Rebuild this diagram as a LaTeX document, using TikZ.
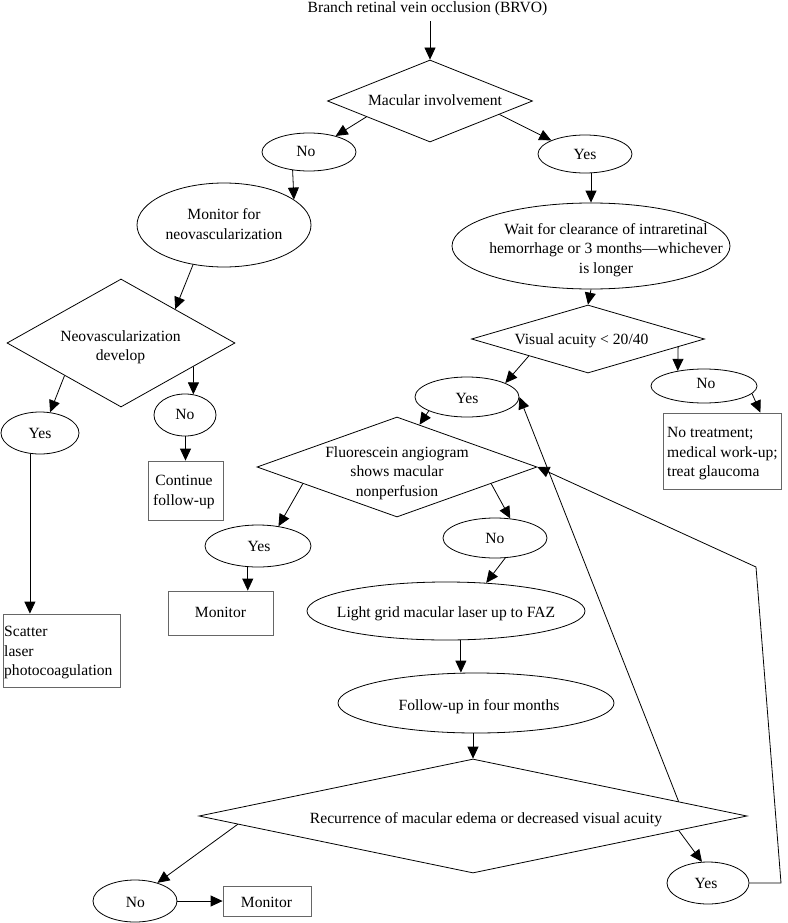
\documentclass[tikz,border=0pt]{standalone}
\usepackage{fontspec}
\setmainfont{Liberation Serif}
\usetikzlibrary{shapes.geometric,arrows.meta}
\begin{document}
\begin{tikzpicture}[x=1pt,y=-1pt,
  shp/.style={draw=black, line width=0.8pt, inner sep=0pt},
  ell/.style={shp, ellipse},
  dia/.style={shp, diamond},
  box/.style={draw=black!60, line width=0.8pt, inner sep=0pt, rectangle},
  txt/.style={inner sep=0pt, font=\fontsize{15.6}{19.5}\selectfont, align=center},
  one/.style={txt, anchor=base},
  arr/.style={-{Triangle[length=12pt,width=11pt]}, line width=0.8pt}
]
\useasboundingbox (0,0) rectangle (787,923);

% title
\node[one] (title) at (427.5,12.5) {Branch retinal vein occlusion (BRVO)};

% shapes
\node[dia, minimum width=205pt, minimum height=82pt] (d1) at (430,101) {};
\node[one] (d1t) at (435,106) {Macular involvement};

\node[ell, minimum width=94pt, minimum height=38pt] (n1) at (309,152) {};
\node[one] (n1t) at (306,157) {No};
\node[ell, minimum width=94pt, minimum height=38pt] (y1) at (585,154) {};
\node[one] (y1t) at (585,159) {Yes};

\node[ell, minimum width=174pt, minimum height=84pt] (m1) at (224,225) {};
\node[txt] (m1t) at (224,224) {Monitor for\\neovascularization};

\node[ell, minimum width=278pt, minimum height=86pt] (w) at (591,246) {};
\node[txt] (wt) at (606,250) {Wait for clearance of intraretinal\\hemorrhage or 3 months—whichever\\is longer};

\node[dia, minimum width=228pt, minimum height=128pt] (d2) at (121,343) {};
\node[txt] (d2t) at (120.5,347) {Neovascularization\\develop};

\node[ell, minimum width=78pt, minimum height=42pt] (yl) at (40,433) {};
\node[one] (ylt) at (40,438.5) {Yes};
\node[ell, minimum width=62pt, minimum height=42pt] (nl) at (185,415) {};
\node[one] (nlt) at (185,419.5) {No};

\node[box, minimum width=75pt, minimum height=59pt] (cf) at (185.5,490.5) {};
\node[txt] (cft) at (184,492) {Continue\\follow-up};

\node[box, minimum width=117pt, minimum height=73pt] (sc) at (61.5,650.5) {};
\node[txt, align=left, anchor=west] (sct) at (4,653) {Scatter\\laser\\photocoagulation};

\node[dia, minimum width=233pt, minimum height=68pt] (d3) at (588,339) {};
\node[one] (d3t) at (581.5,344.5) {Visual acuity < 20/40};

\node[ell, minimum width=104pt, minimum height=40pt] (y2) at (467,397) {};
\node[one] (y2t) at (467,403.5) {Yes};
\node[ell, minimum width=106pt, minimum height=34pt] (n2) at (704,386) {};
\node[one] (n2t) at (706,388.5) {No};

\node[box, minimum width=118pt, minimum height=76pt] (nt) at (722,451) {};
\node[txt, align=left, anchor=west] (ntt) at (667,454) {No treatment;\\medical work-up;\\treat glaucoma};

\node[dia, minimum width=280pt, minimum height=100pt] (d4) at (397,467) {};
\node[txt] (d4t) at (397,473) {Fluorescein angiogram\\shows macular\\nonperfusion};

\node[ell, minimum width=106pt, minimum height=42pt] (y3) at (258,546) {};
\node[one] (y3t) at (259,551.5) {Yes};
\node[box, minimum width=105pt, minimum height=44pt] (mo) at (220.5,613) {};
\node[one] (mot) at (220.5,617.5) {Monitor};

\node[ell, minimum width=104pt, minimum height=40pt] (n3) at (495,538) {};
\node[one] (n3t) at (495,543.5) {No};

\node[ell, minimum width=278pt, minimum height=58pt] (lg) at (446,611) {};
\node[one] (lgt) at (446,617.5) {Light grid macular laser up to FAZ};

\node[ell, minimum width=276pt, minimum height=60pt] (fu) at (476,703) {};
\node[one] (fut) at (479,710.5) {Follow-up in four months};

\node[dia, minimum width=548pt, minimum height=114pt] (d5) at (473,816) {};
\node[one] (d5t) at (486,823.5) {Recurrence of macular edema or decreased visual acuity};

\node[ell, minimum width=84pt, minimum height=42pt] (n4) at (135,901) {};
\node[one] (n4t) at (135.5,907.5) {No};
\node[box, minimum width=88pt, minimum height=30pt] (mo2) at (267,901) {};
\node[one] (mo2t) at (266.5,907.5) {Monitor};

\node[ell, minimum width=82pt, minimum height=42pt] (y4) at (708,883) {};
\node[one] (y4t) at (706,888.5) {Yes};

\coordinate (c1) at (781,883);
\coordinate (c2) at (756,567);

% connectors
\draw[arr] ([yshift=-5pt]d1.north |- title.south) -- (d1.north);
\draw[arr] (d1.194.5) -- (n1.31);
\draw[arr] (d1.349.5) -- (y1.158);
\draw[arr] (n1.228) -- (m1.20);
\draw[arr] (w.north |- y1.south) -- (w.north);
\draw[arr] (m1.232) -- (d2.32);
\draw[arr] (d2.210) -- (yl.64);
\draw[arr] (d2.342) -- (nl.68);
\draw[arr] (cf.north |- nl.south) -- (cf.north);
\draw[arr] (yl.244) -- (yl.244 |- sc.north);
\draw[arr] (w.south) -- (d3.north);
\draw[arr] (d3.196) -- (y2.20);
\draw[arr] (d3.355) -- (n2.150);
\draw[arr] (n2.351.5) -- (nt.45);
\draw[arr] (y2.200) -- (d4.62);
\draw[arr] (d4.190.5) -- (y3.44);
\draw[arr] (y3.244) -- (y3.244 |- mo.north);
\draw[arr] (d4.350) -- (n3.52);
\draw[arr] (n3.297) -- (lg.35.5);
\draw[arr] (lg.297.5) -- (lg.297.5 |- fu.north);
\draw[arr] (d5.north |- fu.south) -- (d5.north);
\draw[arr] (d5.182.3) -- (n4.39);
\draw[arr] (n4.east) -- (mo2.west);
\draw[arr] (d5.356) -- (y4.106);
\draw[arr] (y4.east) -- (c1) -- (c2) -- (d4.east);
\draw[arr] (d5.4) -- (y2.east);
\end{tikzpicture}
\end{document}
